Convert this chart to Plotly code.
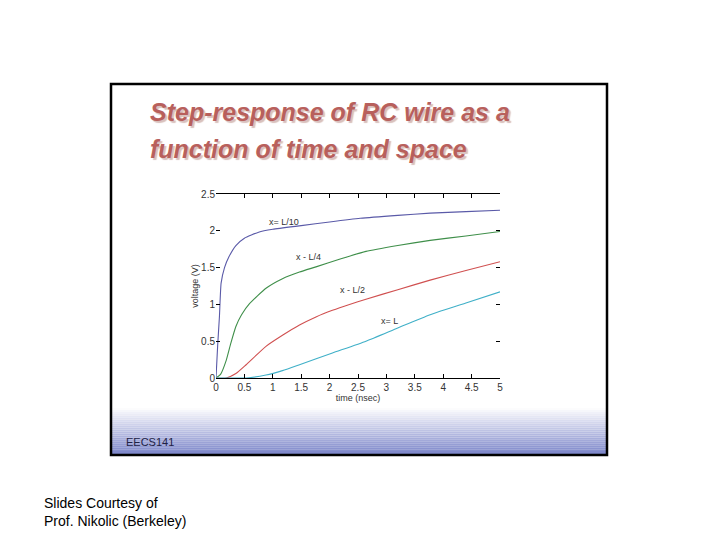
import plotly.graph_objects as go

W, H = 720, 540

# Data
t_L10 = [0, 0.03, 0.06, 0.09, 0.15, 0.23, 0.35, 0.5, 0.75, 1.0, 1.5, 2.0, 2.54, 3.2, 3.77, 4.4, 5.0]
v_L10 = [0, 0.45, 0.83, 1.29, 1.5, 1.65, 1.8, 1.9, 1.98, 2.02, 2.07, 2.12, 2.17, 2.21, 2.24, 2.26, 2.28]

t_L4 = [0, 0.08, 0.18, 0.26, 0.35, 0.45, 0.59, 0.88, 1.17, 1.47, 1.76, 2.2, 2.64, 3.2, 3.77, 4.4, 5.0]
v_L4 = [0, 0.05, 0.24, 0.47, 0.70, 0.86, 1.01, 1.22, 1.35, 1.44, 1.51, 1.62, 1.72, 1.80, 1.87, 1.93, 1.99]

t_L2 = [0, 0.18, 0.35, 0.53, 0.88, 1.17, 1.47, 1.76, 2.05, 2.35, 2.64, 3.2, 3.77, 4.4, 5.0]
v_L2 = [0, 0.0, 0.06, 0.18, 0.43, 0.58, 0.72, 0.83, 0.92, 1.0, 1.07, 1.2, 1.33, 1.46, 1.58]

t_L = [0, 0.53, 0.88, 1.17, 1.47, 2.05, 2.64, 3.2, 3.77, 4.4, 5.0]
v_L = [0, 0.0, 0.04, 0.1, 0.18, 0.34, 0.5, 0.68, 0.86, 1.02, 1.17]

x_ticks = [0, 0.5, 1, 1.5, 2, 2.5, 3, 3.5, 4, 4.5, 5]
y_ticks = [0, 0.5, 1, 1.5, 2, 2.5]

labels = ["x= L/10", "x - L/4", "x - L/2", "x= L"]
label_t = [1.2, 1.62, 2.4, 3.05]
label_v = [2.12, 1.64, 1.19, 0.77]

colors = ["#5a5aa8", "#3f8f4a", "#d05050", "#40b0c8"]

fig = go.Figure()
for tx, vy, c in zip([t_L10, t_L4, t_L2, t_L], [v_L10, v_L4, v_L2, v_L], colors):
    fig.add_trace(go.Scatter(x=tx, y=vy, mode="lines", line=dict(color=c, width=1.1, shape="spline", smoothing=0.5),
                             showlegend=False, hoverinfo="skip"))

for lab, tx, vy in zip(labels, label_t, label_v):
    fig.add_annotation(x=tx, y=vy, text=lab, showarrow=False, xref="x", yref="y",
                       font=dict(family="Liberation Sans, Arial", size=9, color="#333333"))

# the page places the figure 8px in from the top-left corner
OX, OY = 8, 8


def px(x):
    return (x - OX) / W


def py(y):
    return 1 - (y - OY) / H


shapes = []
shapes.append(dict(type="rect", xref="paper", yref="paper", x0=px(111), x1=px(607), y0=py(455), y1=py(84),
                   fillcolor="white", line=dict(width=0), layer="below"))
n = 24
top, bot = 408, 455
for i in range(n):
    y0 = top + (bot - top) * i / n
    y1 = top + (bot - top) * (i + 1) / n
    f = (i + 0.5) / n
    r = int(255 + (120 - 255) * f)
    g = int(255 + (130 - 255) * f)
    b = int(255 + (200 - 255) * f)
    shapes.append(dict(type="rect", xref="paper", yref="paper", x0=px(111), x1=px(607),
                       y0=py(y1), y1=py(y0), fillcolor=f"rgb({r},{g},{b})", line=dict(width=0), layer="below"))
shapes.append(dict(type="rect", xref="paper", yref="paper", x0=px(111), x1=px(607), y0=py(455), y1=py(84),
                   line=dict(color="black", width=2.5), fillcolor="rgba(0,0,0,0)", layer="below"))
fig.update_layout(shapes=shapes)

fig.add_annotation(xref="paper", yref="paper", x=px(124), y=py(442), xanchor="left", yanchor="middle",
                   text="EECS141", showarrow=False, font=dict(family="Liberation Sans, Arial", size=11, color="#222244"))

title_lines = ["Step-response of RC wire as a", "function of time and space"]
for k, line in enumerate(title_lines):
    yy = 112 + 37 * k
    fig.add_annotation(xref="paper", yref="paper", x=px(148), y=py(yy), xanchor="left", yanchor="middle",
                       text=f"<b><i>{line}</i></b>", showarrow=False,
                       font=dict(family="Liberation Sans, Arial", size=25, color="#b8605c",
                                 shadow="2px 2px 1px #d8c0bc"))

fig.add_annotation(xref="paper", yref="paper", x=px(42), y=py(503), xanchor="left", yanchor="middle",
                   text="Slides Courtesy of", showarrow=False,
                   font=dict(family="Liberation Sans, Arial", size=14, color="black"))
fig.add_annotation(xref="paper", yref="paper", x=px(42), y=py(521), xanchor="left", yanchor="middle",
                   text="Prof. Nikolic (Berkeley)", showarrow=False,
                   font=dict(family="Liberation Sans, Arial", size=14, color="black"))

axfont = dict(family="Liberation Sans, Arial", size=10, color="#333333")
labfont = dict(family="Liberation Sans, Arial", size=9, color="#333333")
fig.update_layout(
    width=W, height=H, autosize=False,
    margin=dict(l=0, r=0, t=0, b=0, pad=0, autoexpand=False),
    paper_bgcolor="white", plot_bgcolor="rgba(0,0,0,0)",
    xaxis=dict(domain=[px(216), px(500)], range=[0, 5], tickvals=x_ticks, ticktext=[f"{v:g}" for v in x_ticks],
               ticks="inside", ticklen=4, tickcolor="black", showline=True, linecolor="black", linewidth=1,
               mirror="allticks", showgrid=False, zeroline=False, tickfont=axfont, automargin=False,
               title=dict(text="time (nsec)", font=labfont, standoff=2)),
    yaxis=dict(domain=[py(378), py(194)], range=[0, 2.5], tickvals=y_ticks, ticktext=[f"{v:g}" for v in y_ticks],
               ticks="inside", ticklen=4, tickcolor="black", showline=False, mirror="ticks",
               showgrid=False, zeroline=False, tickfont=axfont, automargin=False,
               title=dict(text="voltage (V)", font=labfont, standoff=0)),
)

fig.write_html("out.html")
